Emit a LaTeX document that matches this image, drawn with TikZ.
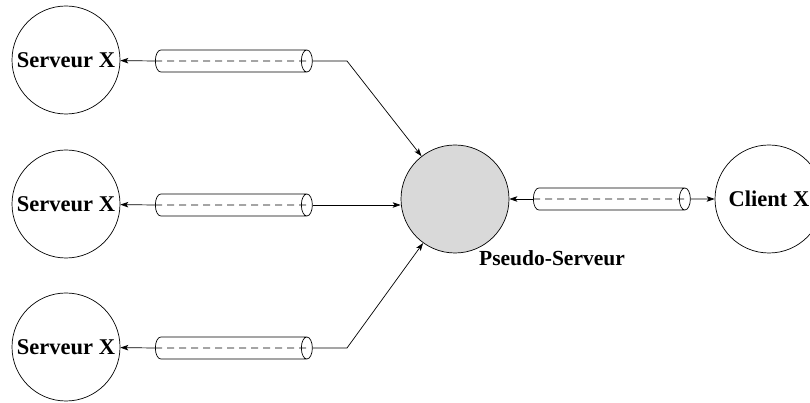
\documentclass[tikz,border=0pt]{standalone}
\usepackage{fontspec}
\setmainfont{Liberation Serif}
\usetikzlibrary{arrows.meta,shapes.geometric}

\tikzset{
	hote/.style={circle,draw,line width=0.7pt,minimum size=108pt,inner sep=0pt,
		font=\bfseries\fontsize{22.5}{26}\selectfont},
	tunnel/.style={cylinder,draw,line width=0.7pt,fill=white,aspect=0.5,anchor=west,
		inner xsep=0pt,inner ysep=11pt,minimum height=157pt},
	fil/.style={line width=0.7pt,-{Stealth[length=8pt,width=5.5pt,inset=2pt]}},
	pointille/.style={line width=0.7pt,dash pattern=on 7pt off 5pt}
}

\begin{document}
\begin{tikzpicture}[x=1pt,y=1pt]
			\useasboundingbox (0,0) rectangle (810,403);

			\node[hote] (s1) at (66,343) {Serveur X};
			\node[hote] (s2) at (66,199) {Serveur X};
			\node[hote] (s3) at (66,56) {Serveur X};
			\node[hote,fill=black!15] (ps) at (455,204) {};
			\node[font=\bfseries\fontsize{21.5}{26}\selectfont] (psl) at (552,145) {Pseudo-Serveur};
			\node[hote] (cx) at (769,204) {Client X};

			\node[tunnel] (t1) at (155,342) {};
			\node[tunnel] (t2) at (155,198) {};
			\node[tunnel] (t3) at (155,55) {};
			\node[tunnel] (t4) at (533,204) {};

			\coordinate (k1) at (347,342);
			\coordinate (k3) at (347,55);

			\draw[fil] (t1.west) -- (s1);
			\draw[fil] (t1.east) -- (k1) -- (ps);
			\draw[pointille] (t1.west) -- ([xshift=-6pt]t1.east);

			\draw[fil] (t2.west) -- (s2);
			\draw[fil] (t2.east) -- (t2.east -| ps.west);
			\draw[pointille] (t2.west) -- ([xshift=-6pt]t2.east);

			\draw[fil] (t3.west) -- (s3);
			\draw[fil] (t3.east) -- (k3) -- (ps);
			\draw[pointille] (t3.west) -- ([xshift=-6pt]t3.east);

			\draw[fil] (t4.west) -- (ps);
			\draw[fil] (t4.east) -- (cx);
			\draw[pointille] (t4.west) -- ([xshift=-6pt]t4.east);
\end{tikzpicture}
\end{document}
